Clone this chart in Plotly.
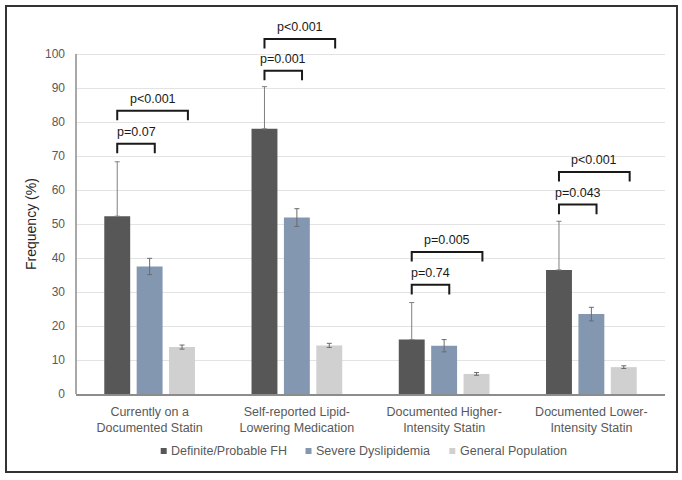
import plotly.graph_objects as go

# ---------------- data ----------------
categories = ["Currently on a<br>Documented Statin",
              "Self-reported Lipid-<br>Lowering Medication",
              "Documented Higher-<br>Intensity Statin",
              "Documented Lower-<br>Intensity Statin"]
series_names = ["Definite/Probable FH", "Severe Dyslipidemia", "General Population"]

fh_values = [52.3, 78.0, 16.0, 36.5]
fh_err_plus = [16.0, 12.4, 10.9, 14.3]
sev_values = [37.5, 51.9, 14.2, 23.5]
sev_err = [2.4, 2.6, 1.8, 2.0]
gp_values = [13.8, 14.3, 5.9, 7.9]
gp_err = [0.6, 0.6, 0.4, 0.4]

# significance brackets: near = FH vs Severe, far = FH vs General
near_labels = ["p=0.07", "p=0.001", "p=0.74", "p=0.043"]
near_heights = [73.6, 95.1, 32.1, 55.7]
far_labels = ["p<0.001", "p<0.001", "p=0.005", "p<0.001"]
far_heights = [83.3, 104.4, 41.8, 65.3]

y_tick_values = [0, 10, 20, 30, 40, 50, 60, 70, 80, 90, 100]

# ---------------- style ----------------
FONT = "Liberation Sans, Arial, sans-serif"
GREY_TXT = "#595959"
colors = ["#575757", "#8497B0", "#D0D0D0"]
ERR_COLOR = "#7F7F7F"

W, H = 682, 480
ML, MR, MT, MB = 76, 17, 10, 86
plot_w = W - ML - MR
plot_h = H - MT - MB
px_per_unit = 3.4
y_top = plot_h / px_per_unit


def px_x(px):
    return (px - ML) / plot_w


def px_y(py):
    return (H - MB - py) / plot_h


fig = go.Figure()
fig.add_trace(go.Bar(
    x=categories, y=fh_values, name=series_names[0],
    marker=dict(color=colors[0], line=dict(width=0)),
    error_y=dict(type="data", array=fh_err_plus, arrayminus=[0] * len(fh_values),
                 symmetric=False, color=ERR_COLOR, thickness=1, width=2.5)))
fig.add_trace(go.Bar(
    x=categories, y=sev_values, name=series_names[1],
    marker=dict(color=colors[1], line=dict(width=0)),
    error_y=dict(type="data", array=sev_err, color="#6b6b6b", thickness=1, width=2.5)))
fig.add_trace(go.Bar(
    x=categories, y=gp_values, name=series_names[2],
    marker=dict(color=colors[2], line=dict(width=0)),
    error_y=dict(type="data", array=gp_err, color="#6b6b6b", thickness=1, width=2.5)))

shapes = []
annotations = []
LEFT, NEAR_R, FAR_R = -0.22, 0.035, 0.26
LEG = 2.8
TXT_OFF = 3.4
for i in range(len(categories)):
    for label, h, right in ((near_labels[i], near_heights[i], NEAR_R),
                            (far_labels[i], far_heights[i], FAR_R)):
        x0, x1 = i + LEFT, i + right
        shapes.append(dict(type="path", xref="x", yref="y",
                           path=f"M {x0},{h - LEG} L {x0},{h} L {x1},{h} L {x1},{h - LEG}",
                           line=dict(color="#1a1a1a", width=2)))
        annotations.append(dict(x=(x0 + x1) / 2, y=h + TXT_OFF, xref="x", yref="y",
                                text=label, showarrow=False,
                                font=dict(family=FONT, size=12.5, color="#1a1a1a"),
                                xanchor="center", yanchor="middle"))

# y axis line from 0 to 100
shapes.append(dict(type="line", xref="paper", yref="y", x0=0, x1=0,
                   y0=0, y1=y_tick_values[-1], line=dict(color="#8c8c8c", width=1.5)))
# outer border
bx0, bx1, by0, by1 = 6, 677, 6, 472
shapes.append(dict(type="rect", xref="paper", yref="paper",
                   x0=px_x(bx0), x1=px_x(bx1), y0=px_y(by1), y1=px_y(by0),
                   line=dict(color="#333333", width=2), layer="above"))

# custom legend (small squares + text)
legend_square_px = [160.7, 305.5, 449.3]
legend_text_px = [169.3, 314.0, 457.7]
legend_y_px = 451
sq = 6
for name, col, sx, tx in zip(series_names, colors, legend_square_px, legend_text_px):
    shapes.append(dict(type="rect", xref="paper", yref="paper",
                       x0=px_x(sx), x1=px_x(sx + sq),
                       y0=px_y(legend_y_px + sq / 2), y1=px_y(legend_y_px - sq / 2),
                       line=dict(width=0), fillcolor=col))
    annotations.append(dict(x=px_x(tx), y=px_y(legend_y_px), xref="paper", yref="paper",
                            text=name, showarrow=False, xanchor="left", yanchor="middle",
                            font=dict(family=FONT, size=12.5, color=GREY_TXT)))

annotations.append(dict(x=px_x(31), y=50, xref="paper", yref="y",
                        text="Frequency (%)", textangle=-90, showarrow=False,
                        font=dict(family=FONT, size=14, color="#262626"),
                        xanchor="center", yanchor="middle"))

fig.update_layout(
    width=W, height=H,
    margin=dict(l=ML, r=MR, t=MT, b=MB, pad=0),
    paper_bgcolor="white", plot_bgcolor="white",
    barmode="group", bargap=0.34, bargroupgap=0.2,
    font=dict(family=FONT, size=12, color=GREY_TXT),
    showlegend=False,
    shapes=shapes, annotations=annotations,
)
fig.update_xaxes(showline=True, linecolor="#8c8c8c", linewidth=2,
                 tickfont=dict(family=FONT, size=12.5, color=GREY_TXT),
                 showgrid=False, ticks="", ticklabelstandoff=5)
fig.update_yaxes(range=[0, y_top], tickvals=y_tick_values,
                 showgrid=True, gridcolor="#E3E3E3", gridwidth=1,
                 showline=False, zeroline=False, ticks="",
                 tickfont=dict(family=FONT, size=12, color=GREY_TXT),
                 ticklabelstandoff=10)

fig.write_html("out.html",
               config={"displayModeBar": False},
               post_script="document.body.style.margin='0px';"
                           "document.body.style.overflow='hidden';")
